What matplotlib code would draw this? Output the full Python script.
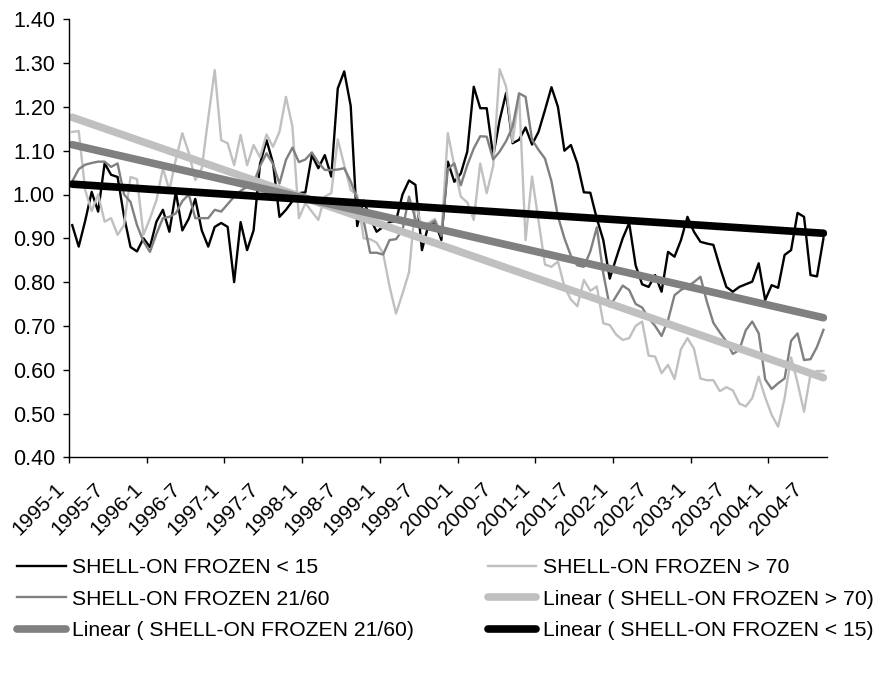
import numpy as np
import matplotlib
matplotlib.use("Agg")
import matplotlib.pyplot as plt
from matplotlib.transforms import ScaledTranslation

plt.rcParams['font.family'] = ['Liberation Sans', 'DejaVu Sans']

# mois 1995-1 ... 2004-9
months = [f"{y}-{m}" for y in range(1995, 2005) for m in range(1, 13)][:117]

under15 = [0.930, 0.881, 0.940, 1.006, 0.961, 1.071, 1.045, 1.040, 0.950, 0.880,
           0.870, 0.900, 0.880, 0.938, 0.965, 0.915, 1.006, 0.918, 0.945, 0.990,
           0.918, 0.881, 0.926, 0.935, 0.926, 0.800, 0.937, 0.873, 0.918, 1.070,
           1.124, 1.072, 0.949, 0.965, 0.985, 1.003, 1.005, 1.090, 1.060, 1.090,
           1.041, 1.242, 1.281, 1.202, 0.928, 0.986, 0.946, 0.915, 0.926, 0.937,
           0.940, 1.000, 1.032, 1.022, 0.873, 0.930, 0.938, 0.896, 1.075, 1.029,
           1.048, 1.098, 1.246, 1.197, 1.197, 1.088, 1.170, 1.232, 1.117, 1.125,
           1.153, 1.114, 1.143, 1.193, 1.245, 1.200, 1.100, 1.113, 1.071, 1.005,
           1.004, 0.945, 0.896, 0.808, 0.855, 0.900, 0.935, 0.838, 0.795, 0.789,
           0.816, 0.778, 0.869, 0.858, 0.896, 0.949, 0.915, 0.892, 0.888, 0.885,
           0.835, 0.789, 0.778, 0.789, 0.795, 0.801, 0.843, 0.759, 0.793, 0.787,
           0.862, 0.873, 0.958, 0.949, 0.816, 0.813, 0.900]

from21to60 = [1.030, 1.058, 1.068, 1.072, 1.075, 1.075, 1.063, 1.071, 1.000, 0.983,
              0.930, 0.893, 0.869, 0.910, 0.946, 0.949, 0.957, 0.985, 1.000, 0.946,
              0.946, 0.946, 0.965, 0.961, 0.978, 0.995, 1.008, 1.018, 1.026, 1.065,
              1.094, 1.070, 1.025, 1.079, 1.107, 1.074, 1.080, 1.096, 1.073, 1.056,
              1.056, 1.057, 1.060, 1.030, 0.990, 0.940, 0.867, 0.867, 0.863, 0.896,
              0.898, 0.919, 0.995, 0.944, 0.923, 0.930, 0.940, 0.905, 1.058, 1.071,
              1.021, 1.067, 1.105, 1.133, 1.132, 1.080, 1.098, 1.122, 1.155, 1.231,
              1.223, 1.125, 1.102, 1.082, 1.030, 0.950, 0.900, 0.860, 0.838, 0.835,
              0.870, 0.925, 0.820, 0.744, 0.768, 0.792, 0.782, 0.750, 0.742, 0.718,
              0.700, 0.677, 0.713, 0.770, 0.782, 0.790, 0.800, 0.812, 0.755, 0.707,
              0.685, 0.665, 0.636, 0.645, 0.690, 0.710, 0.683, 0.578, 0.556, 0.569,
              0.580, 0.666, 0.683, 0.622, 0.624, 0.652, 0.691]

over70 = [1.143, 1.145, 1.010, 0.962, 1.000, 0.938, 0.946, 0.908, 0.930, 1.040,
          1.035, 0.908, 0.945, 0.987, 1.060, 1.010, 1.080, 1.140, 1.095, 1.033,
          1.060, 1.174, 1.284, 1.124, 1.117, 1.067, 1.136, 1.067, 1.113, 1.085,
          1.137, 1.109, 1.143, 1.223, 1.155, 0.946, 0.980, 0.961, 0.942, 0.995,
          1.003, 1.126, 1.067, 1.010, 0.999, 0.900, 0.898, 0.890, 0.866, 0.790,
          0.728, 0.774, 0.822, 0.980, 0.925, 0.935, 0.944, 0.908, 1.140, 1.065,
          0.995, 0.982, 0.942, 1.071, 1.003, 1.065, 1.286, 1.246, 1.120, 1.230,
          0.896, 1.041, 0.940, 0.840, 0.835, 0.847, 0.790, 0.760, 0.745, 0.805,
          0.780, 0.790, 0.706, 0.702, 0.680, 0.668, 0.672, 0.700, 0.710, 0.632,
          0.630, 0.592, 0.611, 0.579, 0.647, 0.672, 0.648, 0.580, 0.576, 0.576,
          0.551, 0.560, 0.553, 0.523, 0.516, 0.535, 0.584, 0.537, 0.497, 0.470,
          0.535, 0.628, 0.570, 0.504, 0.590, 0.597, 0.597]

names = ["SHELL-ON FROZEN < 15", "SHELL-ON FROZEN > 70", "SHELL-ON FROZEN 21/60"]
colors = ["#000000", "#c0c0c0", "#808080"]

fig = plt.figure(figsize=(8.76, 6.73), dpi=100)
ax = fig.add_axes([69 / 876, 1 - 457.3 / 673, 757.7 / 876, 438 / 673])

x = np.arange(len(months))
series = [under15, over70, from21to60]
lignes = {}
for s, nom, c in zip(series, names, colors):
    lignes[nom], = ax.plot(x, s, color=c, lw=1.7)

# droites de tendance (regression lineaire)
tendances = {}
for idx in [1, 2, 0]:
    coef = np.polyfit(x, series[idx], 1)
    ends = x[[0, -1]]
    tendances[names[idx]], = ax.plot(ends, np.polyval(coef, ends), color=colors[idx],
                                     lw=5.5, solid_capstyle='round')

ax.set_xlim(-0.5, len(months) - 0.5)
ax.set_ylim(0.4, 1.4)
ax.set_yticks(np.arange(0.4, 1.41, 0.1))
ax.set_yticklabels([f"{v:.2f}" for v in np.arange(0.4, 1.41, 0.1)])
ax.tick_params(axis='y', length=4.3, width=1, pad=5.8, labelsize=15.5)

ax.set_xticks(np.arange(-0.5, len(months), 12))
ax.set_xticklabels([])
ax.tick_params(axis='x', which='major', length=4.3, width=1)
ax.set_xticks(x[::6], minor=True)
ax.set_xticklabels(months[::6], minor=True, rotation=45, ha='right', va='center',
                   rotation_mode='anchor', fontsize=15)
ax.tick_params(axis='x', which='minor', length=0, pad=21)
decale = ScaledTranslation(-11 / 100, 0, fig.dpi_scale_trans)
for lab in ax.get_xticklabels(minor=True):
    lab.set_transform(lab.get_transform() + decale)

for side in ['top', 'right']:
    ax.spines[side].set_visible(False)
for side in ['left', 'bottom']:
    ax.spines[side].set_linewidth(1)
    ax.spines[side].set_color('black')

handles = [lignes[names[0]], lignes[names[2]], tendances[names[2]],
           lignes[names[1]], tendances[names[1]], tendances[names[0]]]
labels = [names[0], names[2], "Linear ( " + names[2] + ")",
          names[1], "Linear ( " + names[1] + ")", "Linear ( " + names[0] + ")"]
fig.legend(handles, labels, ncol=2, loc='upper left',
           bbox_to_anchor=(17 / 876, 1 - 558 / 673), frameon=False, fontsize=15.2,
           handlelength=2.3, handletextpad=0.3, columnspacing=3.5,
           labelspacing=0.6, borderpad=0, borderaxespad=0)

fig.savefig("out.png", dpi=100)
